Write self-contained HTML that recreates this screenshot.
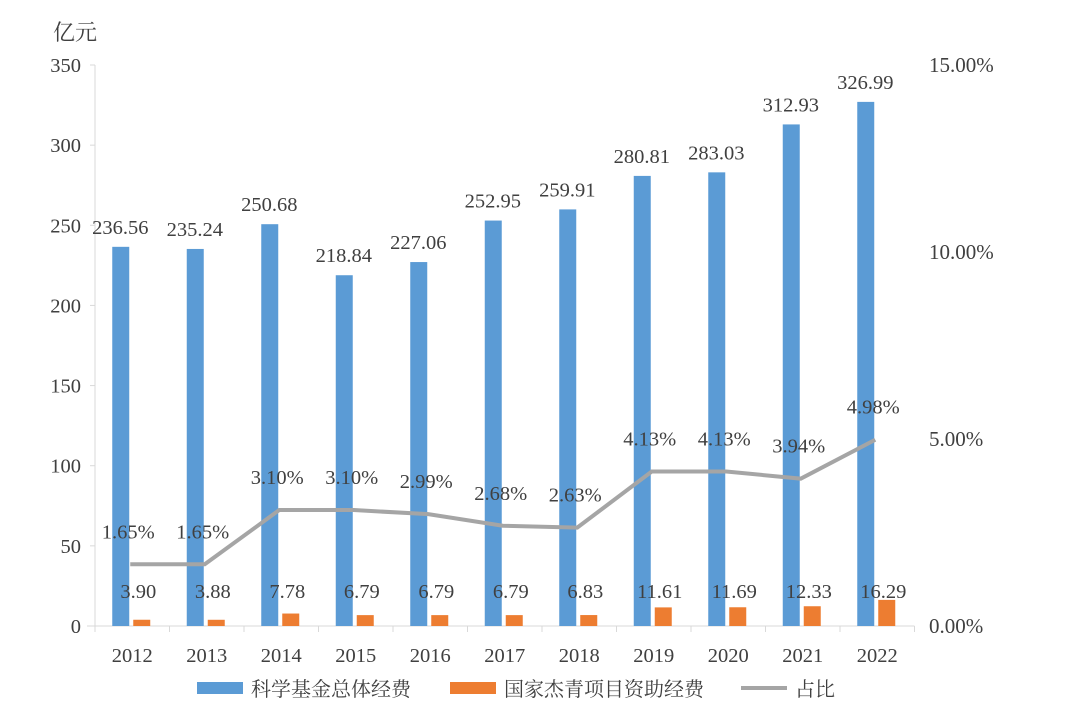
<!DOCTYPE html>
<html><head><meta charset="utf-8"><style>
body{margin:0;background:#fff}
svg text{font-family:"Liberation Serif","Noto Serif CJK SC",serif;fill:#404040}
</style></head><body>
<svg id="c" width="1080" height="716" xmlns="http://www.w3.org/2000/svg"></svg>
<script>
const categories=["2012","2013","2014","2015","2016","2017","2018","2019","2020","2021","2022"];
const totalFunds=[236.56,235.24,250.68,218.84,227.06,252.95,259.91,280.81,283.03,312.93,326.99];
const youthFunds=[3.90,3.88,7.78,6.79,6.79,6.79,6.83,11.61,11.69,12.33,16.29];
const shares=[1.65,1.65,3.10,3.10,2.99,2.68,2.63,4.13,4.13,3.94,4.98];
const leftTicks=[0,50,100,150,200,250,300,350];
const rightTicks=[0,5,10,15];
const svg=document.getElementById('c');const NS='http://www.w3.org/2000/svg';
function mk(t,a,txt){const e=document.createElementNS(NS,t);for(const k in a)e.setAttribute(k,a[k]);if(txt!=null)e.textContent=txt;svg.appendChild(e);return e;}
const x0=95,step=74.5,yB=626,yT=65,FS=20.5;
const yL=v=>yB-(v/350)*(yB-yT);
const yR=v=>yB-(v/15)*(yB-yT);
const cx=i=>x0+step*(i+0.5);
let e=mk('line',{x1:x0,x2:x0,y1:yT,y2:yB,stroke:'#d9d9d9'});

e=mk('line',{x1:x0-8,x2:x0+step*11,y1:yB,y2:yB,stroke:'#d9d9d9'});

for(let i=0;i<=11;i++){e=mk('line',{x1:x0+step*i,x2:x0+step*i,y1:yB,y2:yB+6,stroke:'#d9d9d9'});}
leftTicks.forEach(v=>{e=mk('line',{x1:x0-5,x2:x0,y1:yL(v),y2:yL(v),stroke:'#d9d9d9'});
e=mk('text',{x:x0-14,y:yL(v)+7,'text-anchor':'end','font-size':FS},v);});
rightTicks.forEach(v=>{e=mk('text',{x:929,y:yR(v)+7,'font-size':21},v.toFixed(2)+'%');});
e=mk('text',{x:53,y:40,'font-size':22},'亿元');
categories.forEach((c,i)=>{const x=cx(i);
e=mk('rect',{x:x-20,y:yL(totalFunds[i]),width:17,height:yB-yL(totalFunds[i]),fill:'#5b9bd5'});
e=mk('rect',{x:x+1,y:yL(youthFunds[i]),width:17,height:yB-yL(youthFunds[i]),fill:'#ed7d31'});
e=mk('text',{x:x-12,y:yL(totalFunds[i])-13,'text-anchor':'middle','font-size':FS},totalFunds[i].toFixed(2));
e=mk('text',{x:x+6,y:598,'text-anchor':'middle','font-size':FS},youthFunds[i].toFixed(2));
e=mk('text',{x:x,y:662,'text-anchor':'middle','font-size':FS},c);
});
e=mk('polyline',{points:shares.map((s,i)=>(cx(i)-2)+','+yR(s)).join(' '),fill:'none',stroke:'#a5a5a5','stroke-width':4});

shares.forEach((s,i)=>{e=mk('text',{x:cx(i)-4,y:yR(s)-26,'text-anchor':'middle','font-size':FS},s.toFixed(2)+'%');});
const leg=[['rect','#5b9bd5','科学基金总体经费',197],['rect','#ed7d31','国家杰青项目资助经费',450],['line','#a5a5a5','占比',741]];
leg.forEach(l=>{if(l[0]=='rect'){e=mk('rect',{x:l[3],y:682,width:46,height:12,fill:l[1]});}else{e=mk('line',{x1:l[3],x2:l[3]+46,y1:688,y2:688,stroke:l[1],'stroke-width':4});}

e=mk('text',{x:l[3]+54,y:696,'font-size':20},l[2]);});
</script>
</body></html>
